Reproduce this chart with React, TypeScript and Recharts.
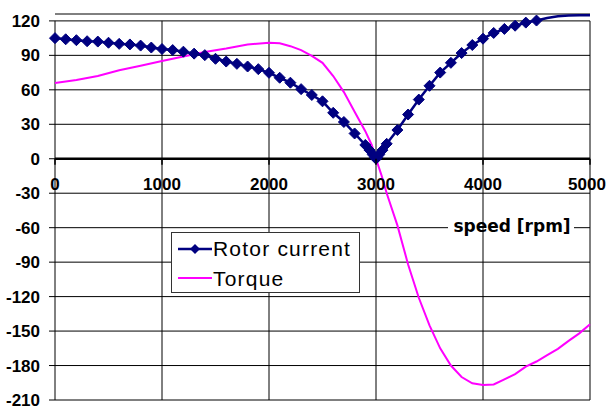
import React from 'react';
import { LineChart, Line, XAxis, YAxis, CartesianGrid, ReferenceLine, Legend, Customized } from 'recharts';

// ---- data ----
const currentRpm = [0, 100, 200, 300, 400, 500, 600, 700, 800, 900, 1000, 1100, 1200, 1300, 1400, 1500, 1600, 1700, 1800, 1900, 2000, 2100, 2200, 2300, 2400, 2500, 2600, 2700, 2800, 2900, 2940, 2970, 2990, 3000, 3010, 3030, 3060, 3100, 3200, 3300, 3400, 3500, 3600, 3700, 3800, 3900, 4000, 4100, 4200, 4300, 4400, 4500, 4600, 4700, 4800, 4900, 5000];
const currentAmp = [105, 104, 103.2, 102.3, 102, 101, 100, 99.5, 98.5, 96.8, 95.5, 94.6, 93.2, 91.5, 90.2, 87, 84.6, 82.6, 80.3, 78, 74.8, 70.5, 66.2, 60.6, 55.5, 50, 40, 32, 22, 12, 7.5, 3.6, 1.2, 0, 1.2, 3.6, 7.5, 13, 25, 38.5, 51.5, 63.5, 75, 83.5, 92, 99, 104.5, 109.5, 113, 115.8, 118.5, 120.3, 122.5, 124, 124.6, 124.9, 125];
const torqueRpm = [0, 200, 400, 600, 800, 1000, 1200, 1400, 1600, 1800, 2000, 2100, 2200, 2300, 2400, 2500, 2600, 2700, 2800, 2900, 2960, 3000, 3050, 3100, 3200, 3300, 3400, 3500, 3600, 3700, 3800, 3900, 4000, 4100, 4200, 4300, 4400, 4500, 4600, 4700, 4800, 4900, 5000];
const torqueNm = [66, 68.5, 72, 77, 81, 85, 89, 93, 96, 99.5, 101, 100.5, 98, 94.5, 89.5, 83.5, 72, 58, 41, 24, 12, 0, -14, -30, -58, -92, -121, -145, -165, -180, -190, -195.5, -197, -196.5, -192, -187.5, -181, -176.5, -171, -165.5, -158.5, -152, -144];
const xTicks = [0, 1000, 2000, 3000, 4000, 5000];
const yTicks = [-210, -180, -150, -120, -90, -60, -30, 0, 30, 60, 90, 120];
const MARKER_MAX_RPM = 4500;
const xAxisTitle = 'speed [rpm]';
const seriesNames = ['Rotor current', 'Torque'];

const currentData = currentRpm.map((rpm, i) => ({ rpm, value: currentAmp[i] }));
const torqueData = torqueRpm.map((rpm, i) => ({ rpm, value: torqueNm[i] }));

// ---- layout ----
const W = 607;
const H = 408;
const MT = 14;
const MB = 7;
const MR = 17;
const YW = 55;
const XH = 1;
const YMIN = -210;
const YMAX = 126;
const PH = H - MT - MB - XH;
const ZERO_Y = MT + (YMAX / (YMAX - YMIN)) * PH;

const NAVY = '#000080';
const MAGENTA = '#ff00ff';
const TICK_FONT = '"Liberation Sans", Arial, sans-serif';

const Diamond = (props: any) => {
  const { cx, cy, payload } = props;
  if (payload == null || payload.rpm > MARKER_MAX_RPM || cx == null) return <g />;
  const r = 5.5;
  return <polygon points={`${cx},${cy - r} ${cx + r},${cy} ${cx},${cy + r} ${cx - r},${cy}`} fill={NAVY} stroke={NAVY} />;
};

const XTick = (props: any) => {
  const { x, payload } = props;
  const tx = Math.min(x, W - 20);
  return (
    <g>
      <line x1={x} x2={x} y1={ZERO_Y} y2={ZERO_Y + 6} stroke="#000" strokeWidth={1.5} />
      <text x={tx} y={ZERO_Y + 31} textAnchor="middle" fontFamily={TICK_FONT} fontWeight="bold" fontSize={17} fill="#000">
        {payload.value}
      </text>
    </g>
  );
};

const SpeedLabel = () => (
  <g>
    <rect x={448} y={206} width={126} height={37} fill="#fff" />
    <text x={512} y={232} textAnchor="middle" fontFamily='"DejaVu Sans", sans-serif' fontWeight="bold" fontSize={17} fill="#000">
      {xAxisTitle}
    </text>
  </g>
);

const LegendBox = () => (
  <div
    style={{
      width: 189,
      height: 61,
      border: '1px solid #333',
      background: '#fff',
      boxSizing: 'border-box',
      position: 'relative',
      fontFamily: TICK_FONT,
      fontSize: 21,
      letterSpacing: 1.2,
      color: '#000',
    }}
  >
    <svg width={34} height={12} style={{ position: 'absolute', left: 6, top: 10 }}>
      <line x1={0} x2={34} y1={6} y2={6} stroke={NAVY} strokeWidth={2.5} />
      <polygon points="17,1 22,6 17,11 12,6" fill={NAVY} />
    </svg>
    <div style={{ position: 'absolute', left: 41, top: 3, lineHeight: '26px', whiteSpace: 'nowrap' }}>{seriesNames[0]}</div>
    <svg width={34} height={12} style={{ position: 'absolute', left: 6, top: 39 }}>
      <line x1={0} x2={34} y1={6} y2={6} stroke={MAGENTA} strokeWidth={2} />
    </svg>
    <div style={{ position: 'absolute', left: 41, top: 33, lineHeight: '26px', whiteSpace: 'nowrap' }}>{seriesNames[1]}</div>
  </div>
);

export default function App() {
  return (
    <div style={{ position: 'absolute', left: 0, top: 0, width: W, height: H, background: '#fff' }}>
      <LineChart width={W} height={H} margin={{ top: MT, right: MR, left: 0, bottom: MB }}>
        <CartesianGrid vertical={false} horizontal={true} stroke="#000" strokeWidth={1} />
        <XAxis
          type="number"
          dataKey="rpm"
          domain={[0, 5000]}
          ticks={xTicks}
          height={XH}
          axisLine={false}
          tickLine={false}
          tick={<XTick />}
          interval={0}
          allowDuplicatedCategory={false}
        />
        <YAxis
          type="number"
          domain={[YMIN, YMAX]}
          ticks={yTicks}
          width={YW}
          axisLine={false}
          tickLine={{ stroke: '#000' }}
          tickSize={6}
          tickMargin={9}
          interval={0}
          tick={{ fontFamily: TICK_FONT, fontWeight: 'bold', fontSize: 17, fill: '#000' }}
        />
        {xTicks.map((v) => (
          <ReferenceLine key={v} segment={[{ x: v, y: YMIN }, { x: v, y: 120 }]} stroke="#000" strokeWidth={1} />
        ))}
        <ReferenceLine y={0} stroke="#000" strokeWidth={2.5} />
        <Customized component={SpeedLabel} />
        <Line
          data={torqueData}
          dataKey="value"
          name={seriesNames[1]}
          stroke={MAGENTA}
          strokeWidth={2}
          dot={false}
          isAnimationActive={false}
          type="linear"
        />
        <Line
          data={currentData}
          dataKey="value"
          name={seriesNames[0]}
          stroke={NAVY}
          strokeWidth={2.5}
          dot={<Diamond />}
          activeDot={false}
          isAnimationActive={false}
          type="linear"
        />
        <Legend
          layout="vertical"
          align="center"
          verticalAlign="middle"
          content={<LegendBox />}
          wrapperStyle={{ left: 171, top: 232, width: 189, height: 61 }}
        />
      </LineChart>
    </div>
  );
}
